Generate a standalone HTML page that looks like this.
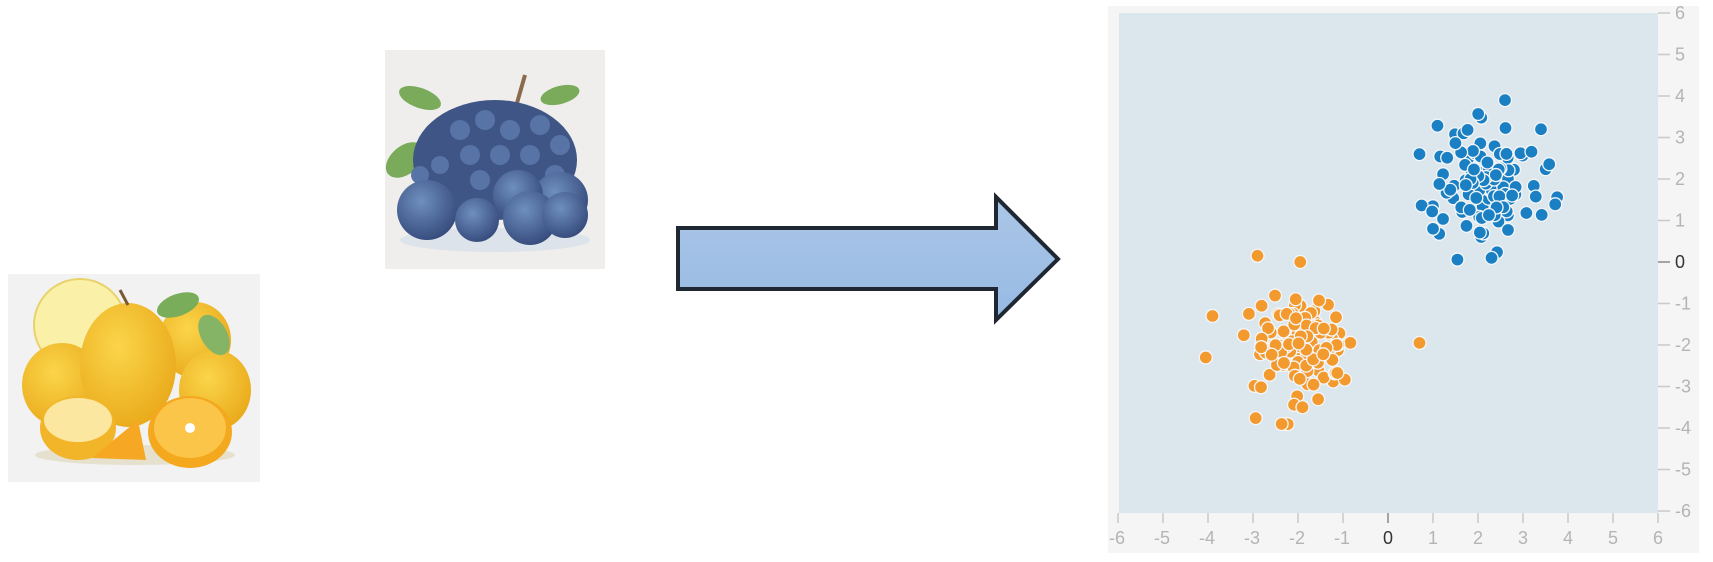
<!DOCTYPE html>
<html><head><meta charset="utf-8"><style>
html,body{margin:0;padding:0;background:#fff;width:1713px;height:562px;overflow:hidden}
svg{position:absolute;left:0;top:0}
text{font-family:"Liberation Sans",sans-serif}
</style></head><body>
<svg width="1713" height="562" viewBox="0 0 1713 562" xmlns="http://www.w3.org/2000/svg">
<defs>
<linearGradient id="ag" x1="0" y1="0" x2="0" y2="1"><stop offset="0" stop-color="#abc6e7"/><stop offset="1" stop-color="#97bae3"/></linearGradient>
<radialGradient id="bb" cx="0.4" cy="0.35" r="0.7"><stop offset="0" stop-color="#6e8fbf"/><stop offset="1" stop-color="#34497a"/></radialGradient>
<radialGradient id="lm" cx="0.4" cy="0.35" r="0.7"><stop offset="0" stop-color="#fbd54a"/><stop offset="1" stop-color="#e9a91a"/></radialGradient>
</defs>
<!-- lemons -->
<rect x="8" y="274" width="252" height="208" fill="#f2f2f2"/>
<ellipse cx="135" cy="455" rx="100" ry="10" fill="#e6e0cf"/>
<circle cx="80" cy="325" r="46" fill="#fbf0a8" stroke="#e8d26a" stroke-width="2"/>
<ellipse cx="195" cy="340" rx="36" ry="38" fill="url(#lm)"/>
<ellipse cx="62" cy="385" rx="40" ry="42" fill="url(#lm)"/>
<ellipse cx="215" cy="390" rx="36" ry="40" fill="url(#lm)"/>
<ellipse cx="128" cy="365" rx="48" ry="62" fill="url(#lm)"/>
<path d="M128 305 L120 290" stroke="#7a5a30" stroke-width="3"/>
<ellipse cx="178" cy="305" rx="22" ry="11" fill="#79ad5a" transform="rotate(-20 178 305)"/>
<ellipse cx="214" cy="335" rx="13" ry="22" fill="#86b466" transform="rotate(-30 214 335)"/>
<ellipse cx="78" cy="428" rx="38" ry="32" fill="#f2b52a"/>
<ellipse cx="78" cy="420" rx="34" ry="22" fill="#fbe7a0"/>
<ellipse cx="190" cy="432" rx="42" ry="36" fill="#f4a81e"/>
<ellipse cx="190" cy="428" rx="36" ry="30" fill="#fbc54a"/>
<circle cx="190" cy="428" r="5" fill="#fff"/>
<path d="M92 458 L138 420 L146 460 Z" fill="#f6a824"/>
<!-- blueberries -->
<rect x="385" y="50" width="220" height="219" fill="#efeeed"/>
<ellipse cx="495" cy="240" rx="95" ry="12" fill="#dde3ea"/>
<ellipse cx="420" cy="98" rx="22" ry="10" fill="#7aab5a" transform="rotate(20 420 98)"/>
<ellipse cx="560" cy="95" rx="20" ry="9" fill="#7aab5a" transform="rotate(-15 560 95)"/>
<ellipse cx="405" cy="160" rx="14" ry="22" fill="#7aab5a" transform="rotate(50 405 160)"/>
<path d="M525 75 L515 110" stroke="#8a6a4a" stroke-width="4"/>
<ellipse cx="495" cy="160" rx="82" ry="60" fill="#3e5585"/>
<g fill="#5873a6">
<circle cx="460" cy="130" r="10"/><circle cx="485" cy="120" r="10"/><circle cx="510" cy="130" r="10"/><circle cx="540" cy="125" r="10"/><circle cx="560" cy="145" r="10"/><circle cx="470" cy="155" r="10"/><circle cx="500" cy="155" r="10"/><circle cx="530" cy="155" r="10"/><circle cx="440" cy="165" r="9"/><circle cx="420" cy="175" r="9"/><circle cx="480" cy="180" r="10"/><circle cx="555" cy="175" r="10"/></g>
<circle cx="560" cy="200" r="28" fill="url(#bb)"/>
<circle cx="518" cy="195" r="25" fill="url(#bb)"/>
<circle cx="427" cy="210" r="30" fill="url(#bb)"/>
<circle cx="477" cy="220" r="22" fill="url(#bb)"/>
<circle cx="530" cy="218" r="27" fill="url(#bb)"/>
<circle cx="565" cy="215" r="23" fill="url(#bb)"/>
<!-- arrow -->
<path d="M678 228 L996 228 L996 197 L1058 259 L996 320 L996 289 L678 289 Z" fill="url(#ag)" stroke="#1f2733" stroke-width="4" stroke-linejoin="miter"/>
<!-- plot -->
<rect x="1108" y="6" width="591" height="547" fill="#f5f5f5"/>
<rect x="1119" y="13" width="539" height="500" fill="#dce6ed"/>
<g id="ax" stroke="#c8c8c8" stroke-width="1.5"></g>
<g id="lab" font-size="18" fill="#b4b4b4"></g>
<g id="pts"></g>
</svg>
<script>
var NS="http://www.w3.org/2000/svg";
function X(x){return 1388+45*x}function Y(y){return 262-41.5*y}
function el(t,a,p,txt){var e=document.createElementNS(NS,t);for(var k in a)e.setAttribute(k,a[k]);if(txt!==undefined)e.textContent=txt;document.getElementById(p).appendChild(e);}
for(var i=-6;i<=6;i++){
 el('line',{x1:X(i),x2:X(i),y1:513,y2:523,stroke:i==0?'#888':'#c8c8c8'},'ax');
 el('text',{x:X(i)-(i<0?1:0),y:544,'text-anchor':'middle',fill:i==0?'#333':'#b4b4b4'},'lab',String(i));
 el('line',{x1:1658,x2:1670,y1:Y(i),y2:Y(i),stroke:i==0?'#888':'#c8c8c8'},'ax');
 el('text',{x:1675,y:Y(i)+6,fill:i==0?'#333':'#b4b4b4'},'lab',String(i));
}
var s=12345;function r(){s=(s*16807)%2147483647;return s/2147483647}
function g(){var u=r()||1e-9,v=r();return Math.sqrt(-2*Math.log(u))*Math.cos(2*Math.PI*v)}
function dot(x,y,c){el('circle',{cx:X(x),cy:Y(y),r:6.5,fill:c,stroke:'#f4f6f8','stroke-width':1.3},'pts')}
var B='#1a80c3',O='#f39a2f';
for(var i=0;i<120;i++){dot(2.2+g()*0.55,2.0+g()*0.7,B)}
dot(2.6,3.9,B);dot(2.3,0.1,B);dot(3.4,3.2,B);dot(0.7,2.6,B);dot(1.0,0.8,B);
for(var i=0;i<120;i++){dot(-1.9+g()*0.55,-2.05+g()*0.6,O)}
dot(0.7,-1.95,O);dot(-2.9,0.15,O);dot(-4.05,-2.3,O);dot(-3.9,-1.3,O);dot(-1.9,-3.5,O);dot(-1.95,0.0,O);
</script>
</body></html>
